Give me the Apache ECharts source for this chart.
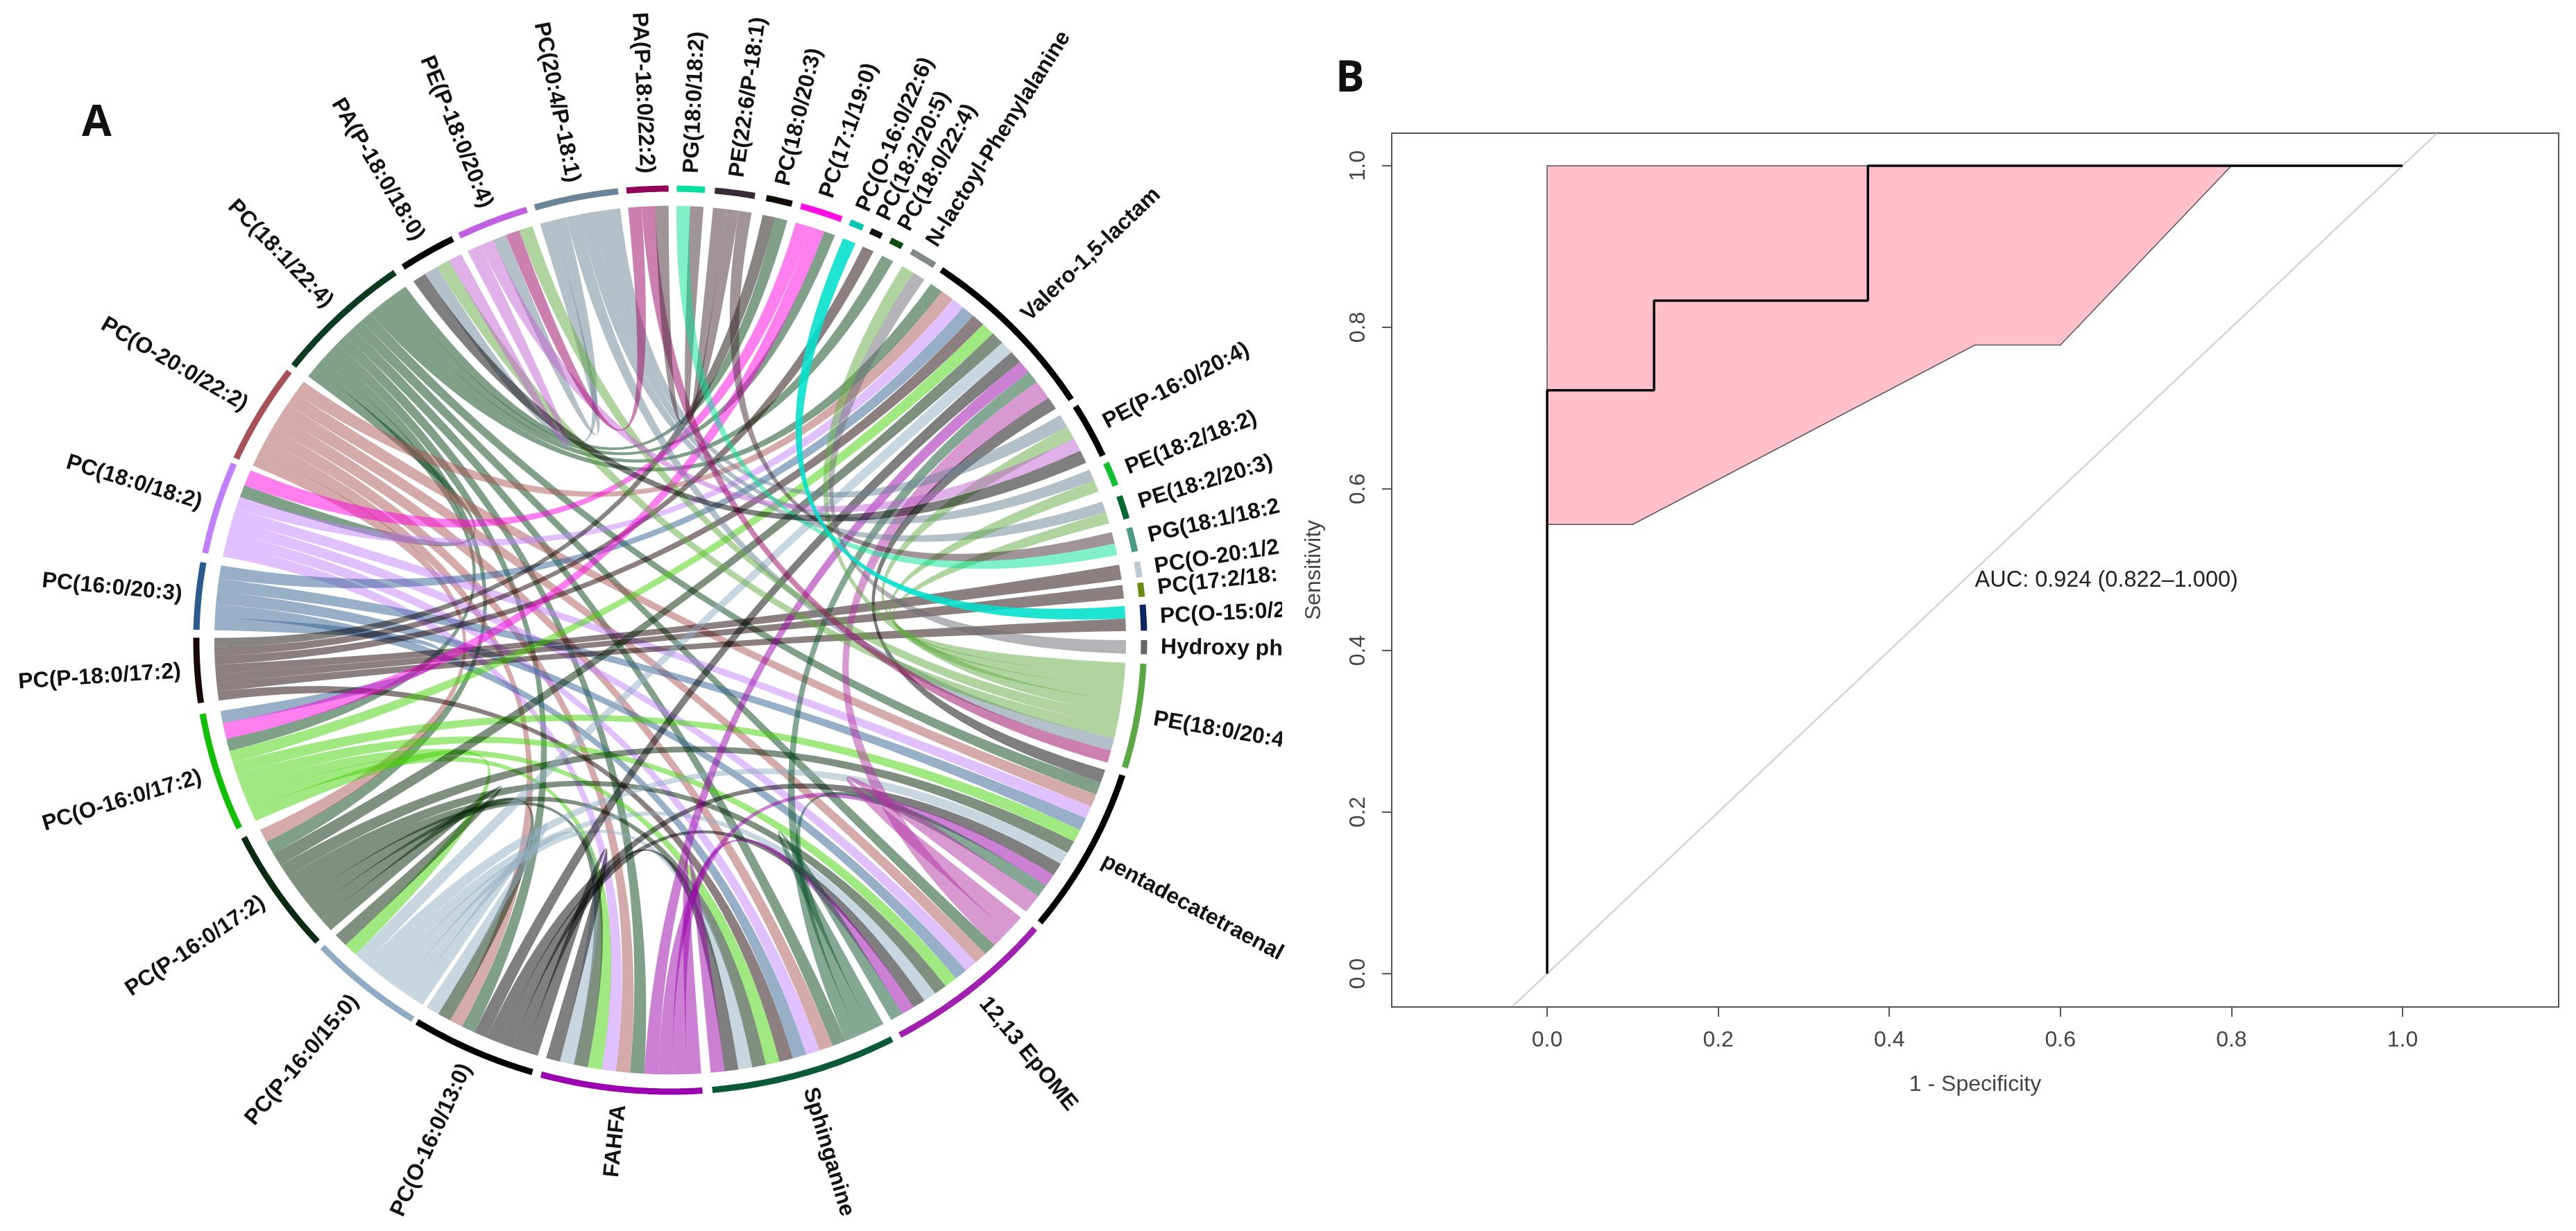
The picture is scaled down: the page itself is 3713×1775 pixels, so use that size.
<!DOCTYPE html>
<html><head><meta charset="utf-8">
<style>html,body{margin:0;padding:0;background:#fff}#c{width:3713px;height:1775px}</style>
<script src="https://cdn.jsdelivr.net/npm/echarts@6/dist/echarts.min.js"></script>
</head><body><div id="c"></div>
<script>
// ---------- Panel A: chord diagram data ----------
const sectorKeys = ['E','Pd','Ep','Sp','Fa','O13','P15','P17','O17','B18','C20','C18','O20','L','A18','PE18','C204','A22','G18','E226','C203','C171','O226','C205','C224','N','V','P16','E182','E203','G181','O201','C172','O15','H'];
const sectorNames = ['PE(18:0/20:4','pentadecatetraenal','12,13 EpOME','Sphinganine','FAHFA','PC(O-16:0/13:0)','PC(P-16:0/15:0)','PC(P-16:0/17:2)','PC(O-16:0/17:2)','PC(P-18:0/17:2)','PC(16:0/20:3)','PC(18:0/18:2)','PC(O-20:0/22:2)','PC(18:1/22:4)','PA(P-18:0/18:0)','PE(P-18:0/20:4)','PC(20:4/P-18:1)','PA(P-18:0/22:2)','PG(18:0/18:2)','PE(22:6/P-18:1)','PC(18:0/20:3)','PC(17:1/19:0)','PC(O-16:0/22:6)','PC(18:2/20:5)','PC(18:0/22:4)','N-lactoyl-Phenylalanine','Valero-1,5-lactam','PE(P-16:0/20:4)','PE(18:2/18:2)','PE(18:2/20:3)','PG(18:1/18:2','PC(O-20:1/2','PC(17:2/18:','PC(O-15:0/2','Hydroxy ph'];
const sectorStart = [3,17.4,39.7,62.1,86.1,106.9,122.9,138.1,155.4,172,181.3,191.1,203.7,217.4,235.7,243.6,253.4,264.7,270.8,275.4,281.7,286,292.3,295,297.7,300.6,304.9,328.8,336.9,341.4,345.6,350,352.7,355.5,360];
const sectorEnd = [16.4,38.7,61,84.9,105.8,122.3,137.2,154.1,170.6,180.3,189.9,203,216.5,234.5,242.7,252.4,263.7,269.8,274.2,280.3,284.9,291.2,294,296.5,299.3,303.9,327.8,335.9,340,344.4,348.7,352,354.5,358.8,361.8];
const ringColors = ['#5aa842','#000000','#a020b0','#0a5a38','#9a00b0','#000000','#90acc4','#0a2a14','#10c000','#180808','#2a5a8e','#c080ff','#a85058','#0a3a20','#000000','#c060e0','#6a8498','#900058','#00e0a0','#3a2a38','#100a05','#ff10e0','#00c8b0','#101010','#0a4a0a','#808888','#000000','#000000','#10c030','#006830','#4a9a88','#c0c8d0','#6a8a10','#0a2560','#666666'];
const ribbonColors = ['#61a941','#000000','#b131a1','#0b512b','#9901a9','#000000','#91adc1','#002101','#41d101','#190000','#315f91','#c181ff','#ab5555','#014115','#000000','#c161d1','#698191','#990161','#00e191','#412931','#0f0a05','#ff00e0','#00e0cc','#101010','#0a4a0a','#808888','#000000','#000000','#10c030','#006830','#4a9a88','#c0c8d0','#6a8a10','#0a2560','#696971'];
// [colour owner, other sector, relative width]
const links = [
 ['L','C171',1],['L','C203',1],['L','C224',1],['L','O17',1],['L','C18',1],['L','P17',1],['L','O13',1],['L','Fa',1],['L','Sp',1],['L','Ep',1],['L','Pd',1],['L','V',1],
 ['O20','P17',1],['O20','O13',1],['O20','Fa',1],['O20','Sp',1],['O20','Ep',1],['O20','Pd',1],['O20','V',1],
 ['C18','Fa',1],['C18','Sp',1],['C18','Ep',1],['C18','Pd',1],['C18','V',1],
 ['C20','O17',1],['C20','Sp',1],['C20','Ep',1],['C20','Pd',1],['C20','V',1],
 ['B18','C205',1],['B18','O201',1],['B18','C172',1],['B18','O15',1],['B18','V',1],['B18','Sp',1],['C203','B18',1],
 ['O17','P15',1],['O17','Fa',1],['O17','Sp',1],['O17','Ep',1],['O17','Pd',1],['O17','V',1],
 ['P17','P15',1],['P17','O13',1],['P17','Fa',1],['P17','Sp',1],['P17','Ep',1],['P17','Pd',1],['P17','V',1],
 ['P15','O13',1],['P15','Fa',1],['P15','Sp',1],['P15','Ep',1],['P15','Pd',1],['P15','V',1],
 ['O13','Fa',1],['O13','Sp',1],['O13','Ep',1],['O13','Pd',1],['O13','V',1],
 ['Fa','Sp',1],['Fa','Ep',1],['Fa','Pd',1],['Fa','V',1],
 ['Sp','Ep',1],['Sp','Pd',1],['Sp','V',1],
 ['Ep','Pd',1.5],['Ep','V',1.5],['Pd','V',1],
 ['C171','O17',1.3],['C171','C18',1.3],
 ['C204','A18',1],['C204','PE18',1],['C204','P16',1],['C204','E182',1],['C204','E203',1],['C204','E',1],
 ['E','A18',1],['E','PE18',1],['E','N',1],['E','P16',1],['E','E182',1],['E','E203',1],
 ['PE18','A18',1],['PE18','P16',1],
 ['A22','PE18',1],['A22','E',1],
 ['E226','A22',1],['E226','G18',1],['E226','G181',1],
 ['G18','G181',1],['A18','P16',1],['H','N',1],['O226','O15',1]
];
// clockwise order of the incoming stripes inside a sector
const incomingRank = ['L','O20','C18','C171','C20','O226','C203','B18','O17','P17','P15','O13','Fa','Sp','Ep','Pd','C204','E226','G18','A22','E','PE18','A18','H'];

// ---------- Panel B: ROC data ----------
const xTicks = [0,0.2,0.4,0.6,0.8,1];
const yTicks = [0,0.2,0.4,0.6,0.8,1];
const rocX = [0,0,0.125,0.125,0.375,0.375,1];
const rocY = [0,0.722,0.722,0.833,0.833,1,1];
const bandX = [0,0.8,0.6,0.5,0.1,0];
const bandY = [1,1,0.778,0.778,0.556,0.556];
const diagX = [-0.04,1.04];
const diagY = [-0.04,1.04];
const aucText = 'AUC: 0.924 (0.822\u20131.000)';

// ---------- layout of stripes ----------
const idx = k => sectorKeys.indexOf(k);
const mid = i => (sectorStart[i]+sectorEnd[i])/2;
const ends = links.map(()=>({}));
sectorKeys.forEach((k,i)=>{
  const own=[], inc=[];
  links.forEach((l,j)=>{
    if(l[0]===k) own.push({j,side:'a',p:idx(l[1]),w:l[2]});
    else if(l[1]===k) inc.push({j,side:'b',p:l[0],w:l[2]});
  });
  own.sort((x,y)=>((mid(y.p)-mid(i)+720)%360)-((mid(x.p)-mid(i)+720)%360));
  inc.sort((x,y)=>incomingRank.indexOf(x.p)-incomingRank.indexOf(y.p));
  const all=own.concat(inc), sum=all.reduce((s,e)=>s+e.w,0);
  let t=sectorStart[i];
  const span=sectorEnd[i]-sectorStart[i];
  all.forEach(e=>{const w=span*e.w/sum; ends[e.j][e.side]=[t,t+w]; t+=w;});
});
const R=0.962;
const pol=(deg,r)=>[r*Math.cos(deg*Math.PI/180),-r*Math.sin(deg*Math.PI/180)];
function arcPts(a1,a2,r){const n=Math.max(2,Math.ceil(Math.abs(a2-a1)/0.5));const o=[];for(let i=0;i<=n;i++)o.push(pol(a1+(a2-a1)*i/n,r));return o;}
function quad(p,q){const o=[];for(let i=1;i<40;i++){const t=i/40,s=1-t;o.push([s*s*p[0]+t*t*q[0],s*s*p[1]+t*t*q[1]]);}return o;}

const tickFont = {fontFamily:'Liberation Sans',fontSize:32,color:'#444'};
const option = {
  animation:false,
  backgroundColor:'#fff',
  title:[
    {text:'A',left:113,top:142,textStyle:{fontFamily:'Open Sans',fontWeight:'bold',fontSize:62,color:'#111'}},
    {text:'B',left:1920,top:78,textStyle:{fontFamily:'Open Sans',fontWeight:'bold',fontSize:62,color:'#111'}}
  ],
  grid:[
    {left:146.4,top:141.8,width:1639.2,height:1562.4,show:false},
    {left:2006,top:192,width:1682,height:1260,show:true,borderColor:'#555',borderWidth:2,backgroundColor:'transparent'}
  ],
  xAxis:[
    {gridIndex:0,type:'value',min:-1.2,max:1.2,show:false},
    {gridIndex:1,type:'value',min:-0.1817,max:1.1825,position:'bottom',
     name:'1 - Specificity',nameLocation:'middle',nameGap:96,nameTextStyle:tickFont,
     axisLine:{show:true,onZero:false,lineStyle:{color:'#555',width:2}},
     axisTick:{show:true,length:14,customValues:xTicks,lineStyle:{color:'#555',width:2}},
     axisLabel:Object.assign({show:true,customValues:xTicks,margin:32,formatter:v=>v.toFixed(1)},tickFont),
     splitLine:{show:false}}
  ],
  yAxis:[
    {gridIndex:0,type:'value',min:-1.2,max:1.2,show:false},
    {gridIndex:1,type:'value',min:-0.0412,max:1.0403,position:'left',
     name:'Sensitivity',nameLocation:'middle',nameGap:96,nameTextStyle:tickFont,
     axisLine:{show:true,onZero:false,lineStyle:{color:'#555',width:2}},
     axisTick:{show:true,length:14,customValues:yTicks,lineStyle:{color:'#555',width:2}},
     axisLabel:Object.assign({show:true,customValues:yTicks,rotate:90,margin:32,formatter:v=>v.toFixed(1)},tickFont),
     splitLine:{show:false}}
  ],
  series:[
    {type:'custom',name:'ribbons',xAxisIndex:0,yAxisIndex:0,z:2,silent:true,data:links.map((l,i)=>[i]),
     renderItem(p,api){
       const i=api.value(0),e=ends[i],l=links[i];
       const A=e.a,B=e.b;
       const P=A&&B?[].concat(arcPts(A[0],A[1],R),quad(pol(A[1],R),pol(B[0],R)),arcPts(B[0],B[1],R),quad(pol(B[1],R),pol(A[0],R))):[];
       return {type:'polygon',shape:{points:P.map(q=>api.coord(q))},style:{fill:ribbonColors[idx(l[0])],opacity:l[0]==='O226'?0.88:0.5}};
     }},
    {type:'custom',name:'sectors',xAxisIndex:0,yAxisIndex:0,z:3,silent:true,data:sectorKeys.map((k,i)=>[i]),
     renderItem(p,api){
       const i=api.value(0);
       return {type:'polyline',shape:{points:arcPts(sectorStart[i],sectorEnd[i],1).map(q=>api.coord(q))},style:{stroke:ringColors[i],lineWidth:9,fill:null,lineCap:'butt'}};
     }},
    {type:'custom',name:'labels',xAxisIndex:0,yAxisIndex:0,z:4,silent:true,data:sectorKeys.map((k,i)=>[i]),
     renderItem(p,api){
       const i=api.value(0),d=mid(i)%360,left=d>90&&d<270;
       const c=api.coord(pol(d,1.035));
       return {type:'text',x:c[0],y:c[1],rotation:(left?180-d:-d)*Math.PI/180,
         style:{text:sectorNames[i],textAlign:left?'right':'left',textVerticalAlign:'middle',font:'bold 32px "Liberation Sans"',fill:'#111'}};
     }},
    {type:'custom',name:'band',xAxisIndex:1,yAxisIndex:1,z:2,silent:true,data:[[0]],
     renderItem(p,api){
       return {type:'polygon',shape:{points:bandX.map((x,i)=>api.coord([x,bandY[i]]))},style:{fill:'#ffc0cb',stroke:'#555',lineWidth:1.5}};
     }},
    {type:'line',name:'diagonal',xAxisIndex:1,yAxisIndex:1,z:3,silent:true,symbol:'none',data:diagX.map((x,i)=>[x,diagY[i]]),lineStyle:{color:'#d3d3d3',width:2.5}},
    {type:'line',name:'roc',xAxisIndex:1,yAxisIndex:1,z:4,silent:true,symbol:'none',data:rocX.map((x,i)=>[x,rocY[i]]),lineStyle:{color:'#000',width:3.5}},
    {type:'custom',name:'auc',xAxisIndex:1,yAxisIndex:1,z:5,silent:true,data:[[0.5,0.4867]],
     renderItem(p,api){
       const c=api.coord([api.value(0),api.value(1)]);
       return {type:'text',x:c[0],y:c[1],style:{text:aucText,textAlign:'left',textVerticalAlign:'middle',font:'32.5px "Liberation Sans"',fill:'#222'}};
     }}
  ],
  graphic:[{type:'rect',z:50,shape:{x:1848,y:560,width:26,height:800},style:{fill:'#fff'}}]
};
const chart = echarts.init(document.getElementById('c'),null,{renderer:'canvas'});
chart.setOption(option);
</script></body></html>
